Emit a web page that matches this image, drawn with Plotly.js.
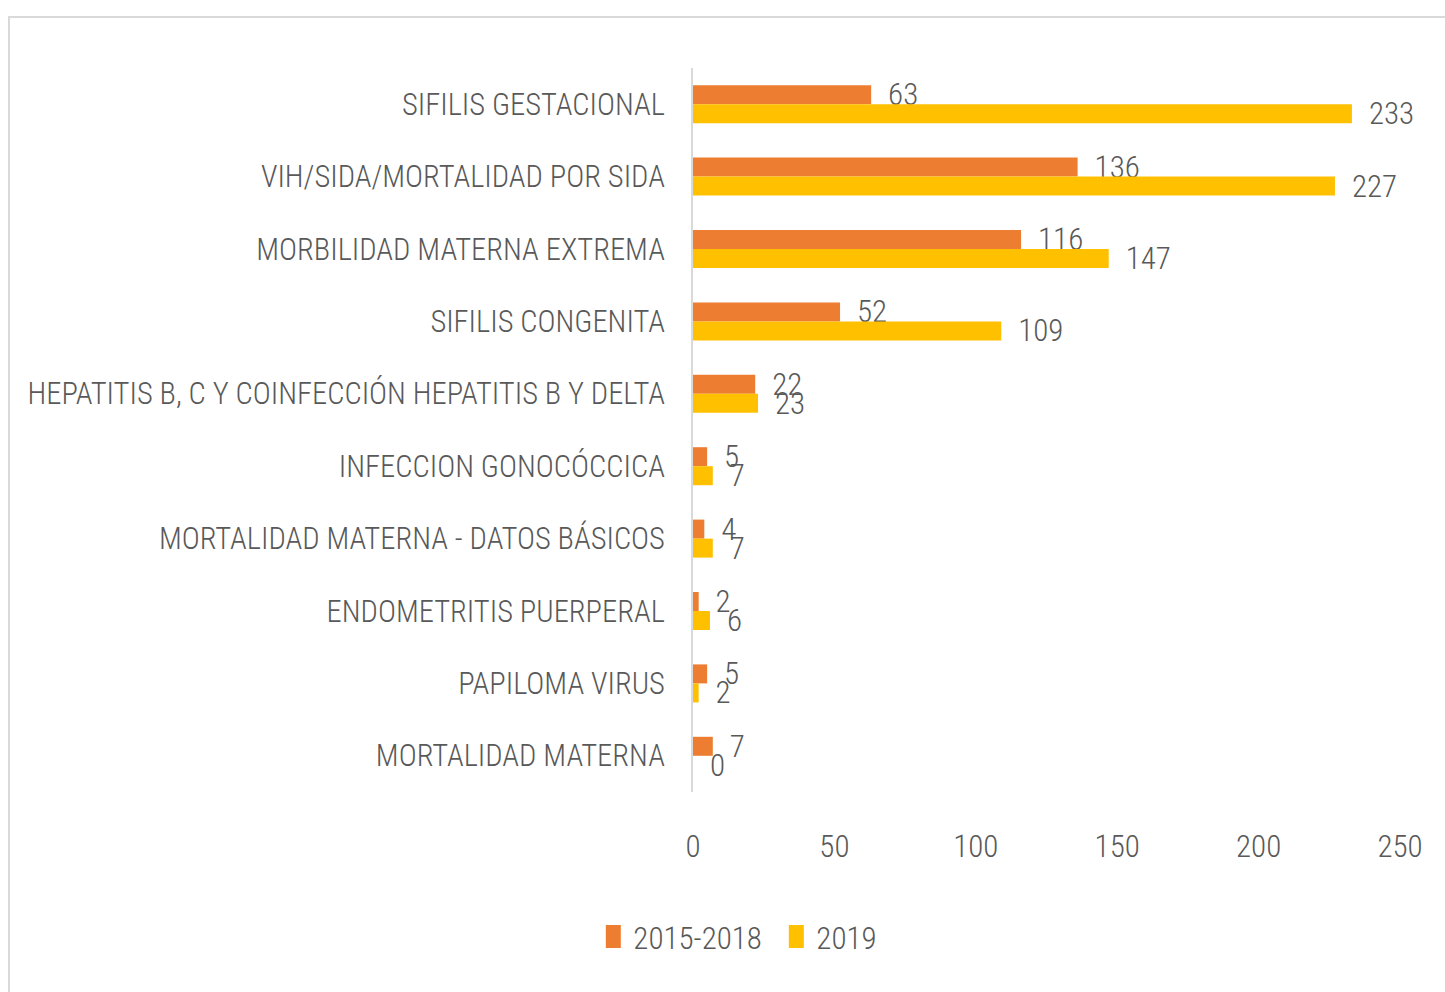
<!DOCTYPE html>
<html>
<head>
<meta charset="utf-8">
<script src="https://cdn.plot.ly/plotly-3.0.1.min.js"></script>
<style>
  html, body { margin: 0; padding: 0; background: #ffffff; overflow: hidden; }
  #frame { position: absolute; left: 8px; top: 16px; width: 1500px; height: 1000px; border: 2px solid #d9d9d9; box-sizing: border-box; }
  #chart { position: absolute; left: 0; top: 0; width: 1445px; height: 992px; }
</style>
</head>
<body>
<div id="frame"></div>
<div id="chart"></div>
<script>
const categories = [
  "SIFILIS GESTACIONAL",
  "VIH/SIDA/MORTALIDAD POR SIDA",
  "MORBILIDAD MATERNA EXTREMA",
  "SIFILIS CONGENITA",
  "HEPATITIS B, C Y COINFECCIÓN HEPATITIS B Y DELTA",
  "INFECCION GONOCÓCCICA",
  "MORTALIDAD MATERNA - DATOS BÁSICOS",
  "ENDOMETRITIS PUERPERAL",
  "PAPILOMA VIRUS",
  "MORTALIDAD MATERNA"
];
const series2015_2018 = [63, 136, 116, 52, 22, 5, 4, 2, 5, 7];
const series2019 = [233, 227, 147, 109, 23, 7, 7, 6, 2, 0];
const xTicks = [0, 50, 100, 150, 200, 250];

const FONT = "Roboto Condensed, Open Sans, sans-serif";
const GREY = "#595959";
const FS = 31;
const FS_CAT = 30.5;
const mkFont = (s) => ({ family: FONT, size: s, color: GREY, weight: 300 });

const traces = [
  {
    type: "bar", orientation: "h", name: "2015-2018",
    y: categories, x: series2015_2018,
    marker: { color: "#ED7D31" },
    texttemplate: "\u00a0\u00a0%{x}", textposition: "outside",
    constraintext: "none", cliponaxis: false,
    textfont: mkFont(FS),
    hoverinfo: "x+y"
  },
  {
    type: "bar", orientation: "h", name: "2019",
    y: categories, x: series2019,
    marker: { color: "#FFC000" },
    texttemplate: "\u00a0\u00a0%{x}", textposition: "outside",
    constraintext: "none", cliponaxis: false,
    textfont: mkFont(FS),
    hoverinfo: "x+y"
  }
];

const layout = {
  width: 1445, height: 992,
  paper_bgcolor: "rgba(0,0,0,0)", plot_bgcolor: "rgba(0,0,0,0)",
  margin: { l: 693, r: 45, t: 68, b: 200 },
  barmode: "group", bargap: 0.475, bargroupgap: 0,
  font: mkFont(FS),
  showlegend: true,
  legend: {
    orientation: "h", x: -0.141, xanchor: "left", y: -0.2, yanchor: "middle",
    font: mkFont(FS),
    itemwidth: 30, tracegroupgap: 0,
    entrywidth: 138, entrywidthmode: "pixels"
  },
  xaxis: {
    range: [0, 250], tickvals: xTicks, ticktext: xTicks.map(String),
    showgrid: false, zeroline: false, showline: false, ticks: "",
    ticklabelstandoff: 33,
    tickfont: mkFont(FS)
  },
  yaxis: {
    type: "category", autorange: "reversed",
    showgrid: false, zeroline: false,
    showline: true, linecolor: "#d9d9d9", linewidth: 2,
    ticks: "", ticklabelstandoff: 20,
    tickfont: mkFont(FS_CAT)
  }
};

Plotly.newPlot("chart", traces, layout, { displayModeBar: false, staticPlot: true }).then(function (gd) {
  // taller legend swatches, as in the reference
  gd.querySelectorAll(".legendpoints path").forEach(function (p) {
    p.setAttribute("d", "M7.5,11.5H-7.5V-11.5H7.5Z");
  });
});
</script>
</body>
</html>
